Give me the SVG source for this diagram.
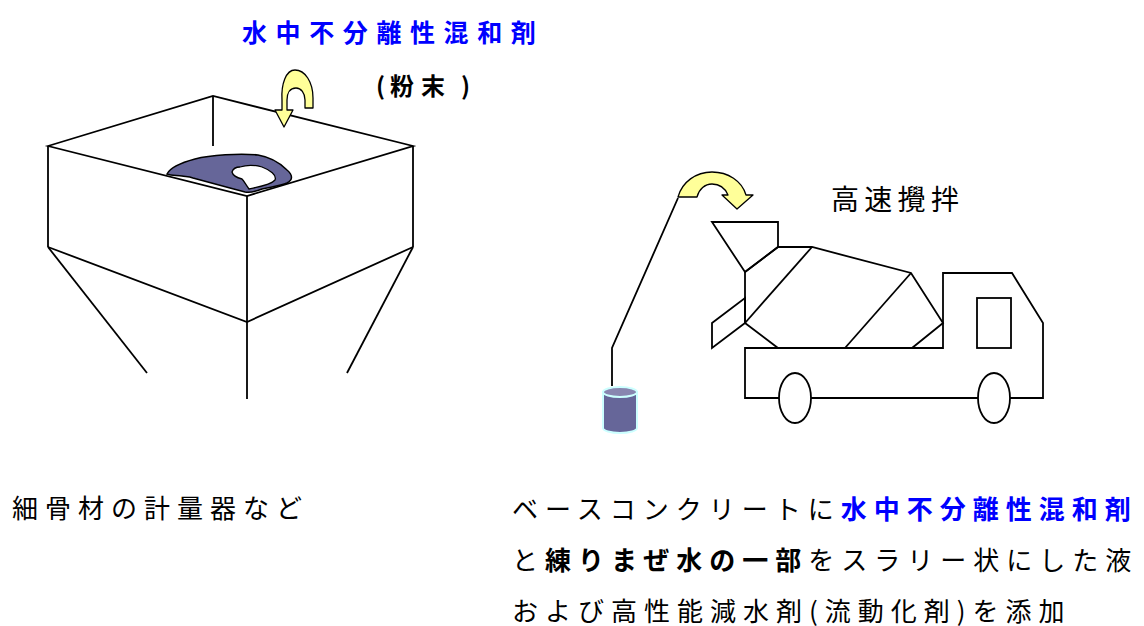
<svg xmlns="http://www.w3.org/2000/svg" width="1144" height="626" viewBox="0 0 1144 626">
  <style>
    .ln { fill: none; stroke: #000; stroke-width: 1.8; stroke-linejoin: miter; }
    .wh { fill: #fff; stroke: #000; stroke-width: 1.8; }
    .yarrow { fill: #FFFF99; stroke: #000; stroke-width: 1.3; stroke-linejoin: round; }
    .powder { fill: #666699; stroke: #000; stroke-width: 1.5; }
    .t { font-family: "Noto Sans CJK JP", "Noto Sans", sans-serif; font-size: 26px; letter-spacing: 7px; fill: #000; }
    .b { font-weight: bold; }
    .blue { fill: #0000FF; }
  </style>

  <rect width="1144" height="626" fill="#fff"/>

  <!-- Mixing plant hopper -->
  <g id="hopper">
    <polygon class="ln" points="48,146 213,96 413,146 247,196"/>
    <line class="ln" x1="213" y1="96" x2="213" y2="146"/>
    <line class="ln" x1="48" y1="146" x2="48" y2="247"/>
    <line class="ln" x1="413" y1="146" x2="413" y2="247"/>
    <line class="ln" x1="247" y1="196" x2="247" y2="399"/>
    <polyline class="ln" points="48,247 247,322 413,247"/>
    <line class="ln" x1="48" y1="247" x2="147" y2="373"/>
    <line class="ln" x1="413" y1="247" x2="347" y2="373"/>
    <!-- powder heap on the top face -->
    <path class="powder" d="M167,174 C170,168 180,163 195,159 C210,155 240,153 258,155 C270,157 280,163 287,170 C293,175 293,180 287,183 C280,186 270,187 262,189 C257,191 250,193 245,192 L230,188 C215,184 200,180 193,178 C188,176 185,177 182,176 C178,175 172,176 167,174 Z"/>
    <path fill="#fff" stroke="#000" stroke-width="1.3" d="M240,167 C246,165 255,165 262,167 C270,170 277,175 275,180 C271,185 258,187 249,189 C246,185 244,181 242,179 C238,178 233,176 232,172 C233,169 236,167 240,167 Z"/>
  </g>

  <!-- Admixture label and feed arrow -->
  <g id="admixture-label">
    <text class="t b blue" x="242" y="42" style="font-size:25px;letter-spacing:8.6px">水中不分離性混和剤</text>
    <text class="t b" x="376 390 421 461" y="95" style="font-size:24px;letter-spacing:0">(粉末)</text>
  </g>
  <g id="feed-arrow">
    <path class="yarrow" d="M313,108 L313,98 C313,82 305,70 295,70 C286,70 281,84 282,100 L282,110 L275,110 L284,127 L293,110 L287,110 L287,100 C287,93 290,88 296,88 C301,88 305,93 305,100 L305,108 Z"/>
  </g>

  <!-- Slurry container -->
  <g id="can">
    <path d="M603,392 L603,428 A17,5 0 0 0 637,428 L637,392 Z" fill="#666699" stroke="#CCFFFF" stroke-width="2"/>
    <ellipse cx="620" cy="392" rx="17" ry="5" fill="#8886B0" stroke="#CCFFFF" stroke-width="2"/>
  </g>

  <!-- Hose and transfer arrow -->
  <g id="connectors">
    <polyline class="ln" points="612,386 612,348 678,198"/>
    <path class="yarrow" d="M678,197 C682,182 696,172 712,172 C728,172 742,181 746,195 L753,195 L737,209 L722,195 L728,195 C725,188 719,184 712,184 C705,184 699,189 697,197 Z"/>
  </g>

  <!-- Agitator truck -->
  <g id="truck">
    <polygon class="ln" points="712,222 778,222 778,247 745,272"/>
    <polygon class="ln" points="745,272 778,247 812,247 911,273 943,323 912,348 778,348 745,323"/>
    <line class="ln" x1="812" y1="247" x2="745" y2="323"/>
    <line class="ln" x1="911" y1="273" x2="845" y2="348"/>
    <polygon class="ln" points="712,323 745,298 745,323 712,348"/>
    <path class="ln" d="M745,348 L943,348 L943,273 L1012,273 L1043,323 L1043,398 L745,398 Z"/>
    <rect class="ln" x="977" y="298" width="34" height="50"/>
    <ellipse class="wh" cx="795" cy="398" rx="16" ry="25"/>
    <ellipse class="wh" cx="994" cy="398" rx="16" ry="25"/>
  </g>

  <g id="mixing-label">
    <text class="t" x="831" y="210" style="font-size:28px;letter-spacing:5.3px">高速攪拌</text>
  </g>

  <g id="plant-caption">
    <text class="t" x="12" y="518">細骨材の計量器など</text>
  </g>

  <g id="truck-caption">
    <text class="t" x="512" y="519">ベースコンクリートに<tspan class="b blue">水中不分離性混和剤</tspan></text>
    <text class="t" x="512" y="570">と<tspan class="b">練りまぜ水の一部</tspan>をスラリー状にした液</text>
    <text class="t" x="512" y="621">および高性能減水剤(流動化剤)を添加</text>
  </g>
</svg>
